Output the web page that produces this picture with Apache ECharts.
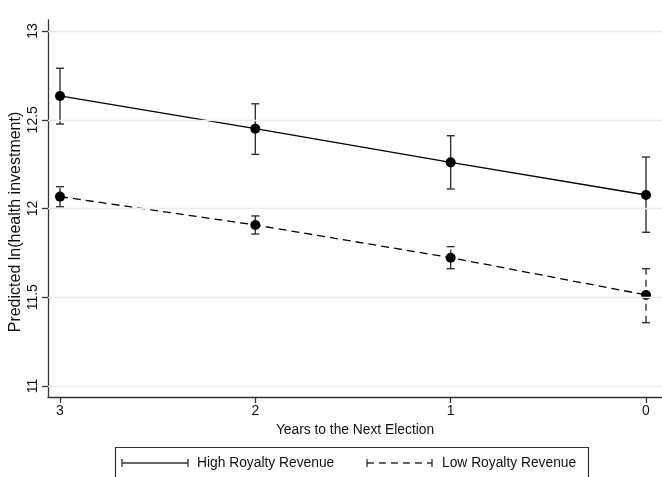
<!DOCTYPE html>
<html>
<head>
<meta charset="utf-8">
<script src="https://cdn.jsdelivr.net/npm/echarts@6/dist/echarts.min.js"></script>
<style>html,body{margin:0;padding:0;background:#fff}#c{width:662px;height:477px}</style>
</head>
<body>
<div id="c"></div>
<script>
var years = [3, 2, 1, 0];
var highMean = [12.634, 12.45, 12.26, 12.076];
var highLower = [12.476, 12.305, 12.11, 11.866];
var highUpper = [12.79, 12.59, 12.41, 12.29];
var lowMean = [12.067, 11.907, 11.723, 11.513];
var lowLower = [12.01, 11.856, 11.661, 11.357];
var lowUpper = [12.123, 11.958, 11.785, 11.661];
var yTicks = [11, 11.5, 12, 12.5, 13];
var yTickLabels = ['11', '11.5', '12', '12.5', '13'];
var xTicks = [3, 2, 1, 0];
var seriesNames = ['High Royalty Revenue', 'Low Royalty Revenue'];
var xTitle = 'Years to the Next Election';
var yTitle = 'Predicted ln(health investment)';

var FONT = 'Liberation Sans';
var FS = 13.8;
var AX = '#333333';

function pairs(xs, ys) { return xs.map(function (x, i) { return [x, ys[i]]; }); }
function errData(lo, hi) { return years.map(function (x, i) { return [x, lo[i], hi[i]]; }); }

function errRender(dashed) {
  return function (params, api) {
    var x = api.value(0);
    var p1 = api.coord([x, api.value(1)]);
    var p2 = api.coord([x, api.value(2)]);
    var w = 4;
    var style = { stroke: AX, lineWidth: 1.4, lineDash: dashed ? [7, 5] : null, fill: null };
    return {
      type: 'group',
      children: [
        { type: 'line', shape: { x1: p1[0], y1: p1[1], x2: p2[0], y2: p2[1] }, style: style },
        { type: 'line', shape: { x1: p1[0] - w, y1: p1[1], x2: p1[0] + w, y2: p1[1] }, style: { stroke: AX, lineWidth: 1.4 } },
        { type: 'line', shape: { x1: p2[0] - w, y1: p2[1], x2: p2[0] + w, y2: p2[1] }, style: { stroke: AX, lineWidth: 1.4 } }
      ]
    };
  };
}

var chart = echarts.init(document.getElementById('c'), null, { renderer: 'canvas' });
var option = {
  animation: false,
  backgroundColor: '#fff',
  textStyle: { fontFamily: FONT },
  grid: { left: 48, right: 0, top: 20, bottom: 80, containLabel: false },
  xAxis: {
    type: 'value', inverse: true, min: -0.0819, max: 3.0614,
    name: xTitle, nameLocation: 'middle', nameGap: 25,
    nameTextStyle: { fontFamily: FONT, fontSize: FS, color: '#111' },
    axisLine: { show: true, onZero: false, lineStyle: { color: AX, width: 1.3 } },
    axisTick: { show: true, length: 6, customValues: xTicks, lineStyle: { color: AX, width: 1.3 } },
    axisLabel: { customValues: xTicks, margin: 7, fontFamily: FONT, fontSize: 14, color: '#111' },
    splitLine: { show: false }
  },
  yAxis: {
    type: 'value', min: 10.938, max: 13.062,
    axisLine: { show: true, onZero: false, lineStyle: { color: AX, width: 1.3 } },
    axisTick: { show: true, length: 6, customValues: yTicks, lineStyle: { color: AX, width: 1.3 } },
    axisLabel: {
      customValues: yTicks, rotate: 90, margin: 8, fontFamily: FONT, fontSize: 14, color: '#111',
      formatter: function (v) { var i = yTicks.indexOf(v); return i >= 0 ? yTickLabels[i] : ''; }
    },
    splitLine: { show: false }
  },
  graphic: [
    { type: 'text', x: 16, y: 222, rotation: Math.PI / 2, style: { text: yTitle, fontFamily: FONT, fontSize: 16, fill: '#111', align: 'center', verticalAlign: 'middle' } },
    { type: 'rect', shape: { x: 115.5, y: 447.5, width: 473, height: 40 }, style: { fill: null, stroke: AX, lineWidth: 1.2 } },
    { type: 'line', shape: { x1: 122, y1: 463, x2: 188, y2: 463 }, style: { stroke: AX, lineWidth: 1.3 } },
    { type: 'line', shape: { x1: 122, y1: 459, x2: 122, y2: 467 }, style: { stroke: AX, lineWidth: 1.3 } },
    { type: 'line', shape: { x1: 188, y1: 459, x2: 188, y2: 467 }, style: { stroke: AX, lineWidth: 1.3 } },
    { type: 'text', x: 197, y: 463, style: { text: seriesNames[0], fontFamily: FONT, fontSize: FS, fill: '#111', verticalAlign: 'middle' } },
    { type: 'line', shape: { x1: 367, y1: 463, x2: 432, y2: 463 }, style: { stroke: AX, lineWidth: 1.3, lineDash: [7, 5] } },
    { type: 'line', shape: { x1: 367, y1: 459, x2: 367, y2: 467 }, style: { stroke: AX, lineWidth: 1.3 } },
    { type: 'line', shape: { x1: 432, y1: 459, x2: 432, y2: 467 }, style: { stroke: AX, lineWidth: 1.3 } },
    { type: 'text', x: 442, y: 463, style: { text: seriesNames[1], fontFamily: FONT, fontSize: FS, fill: '#111', verticalAlign: 'middle' } }
  ],
  series: [
    {
      type: 'line', name: 'grid', data: [], silent: true,
      markLine: {
        silent: true, symbol: 'none', label: { show: false },
        lineStyle: { color: '#ececec', width: 1.3, type: 'solid' },
        data: yTicks.map(function (v) { return { yAxis: v }; })
      },
      z: 1
    },
    { type: 'custom', name: 'highErr', renderItem: errRender(false), data: errData(highLower, highUpper), z: 2 },
    { type: 'custom', name: 'lowErr', renderItem: errRender(true), data: errData(lowLower, lowUpper), z: 2 },
    {
      type: 'line', name: seriesNames[0], data: pairs(years, highMean),
      symbol: 'circle', symbolSize: 10, itemStyle: { color: '#000' },
      lineStyle: { color: '#000', width: 1.3 }, z: 3
    },
    {
      type: 'line', name: seriesNames[1], data: pairs(years, lowMean),
      symbol: 'circle', symbolSize: 10, itemStyle: { color: '#000' },
      lineStyle: { color: '#000', width: 1.3, type: [8, 5] }, z: 3
    }
  ]
};
chart.setOption(option);
</script>
</body>
</html>
